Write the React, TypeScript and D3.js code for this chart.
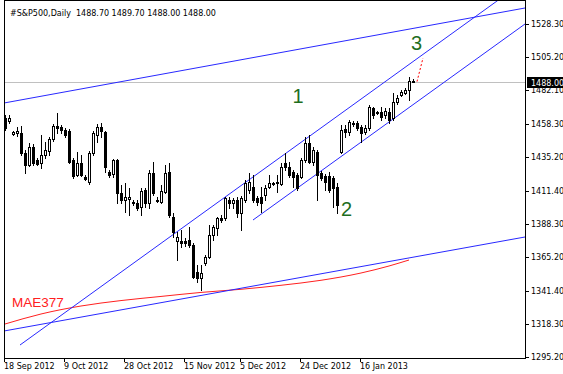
import React from "react";
import * as d3 from "d3";

// ---- Data ----
const opens = [1462.5,1460.4,1451.3,1452.0,1452.0,1438.0,1429.6,1442.2,1433.1,1431.0,1436.6,1439.4,1447.8,1456.9,1456.2,1454.1,1453.4,1433.1,1422.6,1431.0,1421.2,1417.7,1438.0,1450.6,1456.2,1452.7,1424.7,1423.3,1433.1,1410.0,1405.1,1405.8,1403.7,1403.0,1400.2,1412.1,1403.0,1424.0,1405.1,1403.7,1410.7,1424.7,1393.2,1376.4,1376.4,1376.4,1377.1,1373.6,1354.7,1350.5,1361.0,1365.2,1380.6,1385.5,1392.5,1392.5,1405.1,1403.0,1405.1,1396.0,1405.1,1412.1,1414.2,1406.5,1407.2,1408.6,1414.2,1417.0,1417.0,1416.3,1431.0,1428.2,1424.7,1422.6,1421.2,1433.1,1445.0,1431.7,1438.7,1424.0,1421.9,1421.9,1420.5,1414.2,1438.7,1454.8,1452.7,1459.0,1459.0,1456.2,1452.7,1455.5,1469.5,1466.7,1466.7,1464.6,1466.7,1462.5,1473.7,1478.6,1480.0,1482.1,1488.7];
const highs = [1464.6,1464.6,1453.4,1456.2,1456.9,1440.1,1445.0,1444.3,1434.5,1450.6,1445.7,1449.2,1458.3,1466.0,1457.6,1455.5,1454.8,1434.5,1438.7,1436.6,1422.6,1439.4,1453.4,1458.3,1459.0,1453.4,1426.1,1433.8,1433.8,1415.6,1417.0,1413.5,1405.1,1405.1,1413.5,1413.5,1426.1,1431.7,1407.2,1415.6,1429.6,1431.0,1396.0,1382.7,1384.1,1378.5,1386.2,1375.0,1359.6,1359.6,1366.6,1387.6,1387.6,1393.2,1394.6,1407.2,1407.2,1406.5,1407.2,1407.9,1419.1,1424.0,1422.6,1407.9,1414.2,1415.6,1422.6,1417.7,1422.6,1431.0,1438.0,1431.7,1426.1,1424.0,1434.5,1449.2,1450.6,1442.2,1440.1,1425.4,1423.3,1424.7,1421.9,1417.0,1457.6,1457.6,1461.1,1460.4,1460.4,1457.6,1457.6,1471.6,1470.2,1467.4,1470.2,1469.5,1469.5,1480.0,1478.6,1482.1,1483.5,1491.2,1489.7];
const lows = [1454.1,1459.0,1450.6,1449.9,1436.6,1424.0,1428.9,1429.6,1429.6,1427.5,1434.5,1436.6,1446.4,1452.0,1452.0,1449.2,1431.0,1420.5,1421.9,1421.9,1419.1,1416.3,1436.6,1445.7,1449.2,1424.7,1421.2,1421.2,1403.0,1403.0,1396.7,1394.6,1401.6,1398.1,1394.6,1400.2,1399.5,1408.6,1403.7,1403.0,1410.0,1393.2,1379.2,1363.1,1372.2,1372.9,1372.2,1350.5,1347.7,1342.1,1359.6,1364.5,1377.1,1380.6,1389.7,1391.1,1399.5,1399.5,1393.2,1384.1,1403.7,1410.0,1403.7,1401.6,1396.7,1405.1,1413.5,1415.6,1410.7,1415.6,1426.1,1421.2,1414.2,1412.1,1420.5,1431.7,1431.0,1429.6,1405.1,1419.1,1412.1,1410.7,1400.2,1396.0,1438.0,1449.2,1450.6,1456.9,1454.1,1445.7,1451.3,1454.1,1462.5,1465.3,1461.1,1462.5,1459.0,1461.1,1472.3,1477.9,1479.3,1475.1,1488.0];
const closes = [1455.5,1462.5,1452.7,1453.4,1438.0,1429.6,1442.2,1431.0,1430.3,1436.6,1440.1,1447.8,1456.9,1455.5,1454.1,1450.6,1431.7,1421.9,1431.0,1422.6,1419.8,1438.0,1452.0,1456.2,1453.4,1428.2,1422.6,1433.1,1410.0,1405.1,1407.2,1407.2,1403.0,1399.5,1411.4,1403.0,1424.0,1410.0,1404.4,1411.4,1424.0,1394.6,1382.7,1379.2,1375.0,1375.0,1373.6,1351.2,1350.5,1354.0,1365.2,1380.6,1386.2,1392.5,1391.1,1406.5,1403.0,1405.1,1396.0,1406.5,1417.0,1417.7,1405.1,1403.7,1403.0,1413.5,1417.0,1416.6,1417.7,1428.2,1428.2,1422.6,1421.2,1413.5,1433.1,1445.0,1431.7,1440.1,1422.6,1420.5,1417.7,1412.1,1413.5,1401.6,1454.1,1452.7,1459.7,1458.3,1455.5,1452.0,1455.5,1470.2,1464.6,1466.0,1463.2,1467.4,1461.1,1473.7,1476.5,1480.7,1482.1,1488.4,1488.0];

const priceTicks = [1528.3, 1505.2, 1482.1, 1458.3, 1435.2, 1411.4, 1388.3, 1365.2, 1341.4, 1318.3, 1295.2];
const dateLabels = ["18 Sep 2012", "9 Oct 2012", "28 Oct 2012", "15 Nov 2012", "5 Dec 2012", "24 Dec 2012", "16 Jan 2013"];
const dateBars = [0, 15, 30, 45, 59, 74, 89];

// Moving average (MAE377)
const maBars = [0, 9, 19, 29, 39, 49, 59, 69, 79, 89, 96, 101];
const maValues = [1318.3, 1325.3, 1330.9, 1334.7, 1337.6, 1340.4, 1342.6, 1345.4, 1348.9, 1354.0, 1358.9, 1363.1];

// Trend lines: anchor A (bar, price) and anchor B (bar, price), extended to the right
const lineBarA = [-0.25, -0.25, 3.75, 62];
const linePriceA = [1473.0, 1313.4, 1303.6, 1391.1];
const lineBarB = [130, 130, 81.75, 130];
const linePriceB = [1539.5, 1379.2, 1461.1, 1528.3];

// Projection (red dotted)
const projBars = [103, 104.5];
const projPrices = [1488.0, 1504.5];

const header = "#S&P500,Daily  1488.70 1489.70 1488.00 1488.00";
const lastPrice = 1488.0;

const waveLabels = ["1", "2", "3"];
const waveBars = [71.9, 84, 101.5];
const wavePrices = [1473.0, 1393.9, 1510.1];
const maLabel = "MAE377";
const maLabelBar = 1.75;
const maLabelPrice = 1330.2;

export default function App() {
  const W = 563, H = 374;
  const left = 4, right = 525, top = 0, bottom = 358;
  const x = d3.scaleLinear().domain([0, 130]).range([5, 525]);
  const y = d3.scaleLinear().domain([1295.2, 1528.3]).range([357, 24]);

  const blue = "#2828ff";
  const axisFont = "'DejaVu Sans', sans-serif";

  const maLine = d3
    .line<number>()
    .x((_, i) => x(maBars[i]))
    .y((d) => y(d))
    .curve(d3.curveMonotoneX)(maValues);

  const trend = lineBarA.map((ba, i) => {
    const bb = lineBarB[i];
    const slope = (linePriceB[i] - linePriceA[i]) / (bb - ba);
    const endBar = 140;
    return {
      x1: x(ba),
      y1: y(linePriceA[i]),
      x2: x(endBar),
      y2: y(linePriceA[i] + slope * (endBar - ba)),
    };
  });

  const bidY = Math.round(y(lastPrice)) + 0.5;

  return (
    <svg
      width={W}
      height={H}
      style={{ position: "absolute", left: 0, top: 0, background: "#fff" }}
    >
      <defs>
        <clipPath id="plot">
          <rect x={left} y={top} width={right - left} height={bottom - top} />
        </clipPath>
      </defs>
      <rect x={0} y={0} width={W} height={H} fill="#fff" />

      {/* bid line */}
      <line x1={left} x2={right} y1={bidY} y2={bidY} stroke="#c0c0c0" strokeWidth={1} />

      <g clipPath="url(#plot)">
        {/* MA */}
        <path d={maLine || ""} fill="none" stroke="#ff2020" strokeWidth={1} />
        {/* trend lines */}
        {trend.map((t, i) => (
          <line key={i} x1={t.x1} y1={t.y1} x2={t.x2} y2={t.y2} stroke={blue} strokeWidth={1} />
        ))}
        {/* projection */}
        <line
          x1={x(projBars[0])}
          y1={y(projPrices[0])}
          x2={x(projBars[1])}
          y2={y(projPrices[1])}
          stroke="#ff0000"
          strokeWidth={1}
          strokeDasharray="2,2"
        />
        {/* candles */}
        {opens.map((o, i) => {
          const c = closes[i], h = highs[i], l = lows[i];
          const cx = Math.round(x(i));
          const bull = c >= o;
          const topY = Math.round(y(Math.max(o, c)));
          const botY = Math.round(y(Math.min(o, c)));
          return (
            <g key={i}>
              <line
                x1={cx + 0.5}
                x2={cx + 0.5}
                y1={Math.round(y(h))}
                y2={Math.round(y(l)) + 1}
                stroke="#000"
                strokeWidth={1}
              />
              {botY - topY < 1 ? (
                <line x1={cx - 1} x2={cx + 2} y1={topY + 0.5} y2={topY + 0.5} stroke="#000" strokeWidth={1} />
              ) : (
                <rect
                  x={cx - 0.5}
                  y={topY + 0.5}
                  width={2}
                  height={botY - topY}
                  fill={bull ? "#fff" : "#000"}
                  stroke="#000"
                  strokeWidth={1}
                />
              )}
            </g>
          );
        })}
      </g>

      {/* labels on chart */}
      {waveLabels.map((t, i) => (
        <text
          key={t}
          x={x(waveBars[i])}
          y={y(wavePrices[i])}
          fill="#1e6e1e"
          fontFamily="'Liberation Sans', Arial, sans-serif"
          fontSize={20}
        >
          {t}
        </text>
      ))}
      <text
        x={x(maLabelBar)}
        y={y(maLabelPrice)}
        fill="#ff2020"
        fontFamily="'Liberation Sans', Arial, sans-serif"
        fontSize={13.5}
      >
        {maLabel}
      </text>

      {/* frame */}
      <rect x={left + 0.5} y={top + 0.5} width={right - left} height={bottom - top} fill="none" stroke="#000" strokeWidth={1} />

      {/* header */}
      <text x={10} y={16} fontFamily={axisFont} fontSize={8} fill="#000" style={{ whiteSpace: "pre" }}>
        {header}
      </text>

      {/* price axis */}
      {priceTicks.map((p) => (
        <g key={p}>
          <line x1={right + 1} x2={right + 4} y1={Math.round(y(p)) + 0.5} y2={Math.round(y(p)) + 0.5} stroke="#000" />
          <text x={531} y={y(p) + 3} fontFamily={axisFont} fontSize={8} fill="#000">
            {p.toFixed(2)}
          </text>
        </g>
      ))}
      {/* last price box */}
      <rect x={right + 2} y={bidY - 5.5} width={W - right - 2} height={11} fill="#000" />
      <text x={531} y={bidY + 3} fontFamily={axisFont} fontSize={8} fill="#fff">
        {lastPrice.toFixed(2)}
      </text>

      {/* date axis */}
      {dateLabels.map((d, i) => {
        const bx = Math.round(x(dateBars[i]));
        return (
          <g key={d}>
            <line x1={bx - 0.5} x2={bx - 0.5} y1={bottom} y2={bottom + 4} stroke="#000" />
            <text x={bx - 1} y={369} fontFamily={axisFont} fontSize={8} fill="#000">
              {d}
            </text>
          </g>
        );
      })}
    </svg>
  );
}
